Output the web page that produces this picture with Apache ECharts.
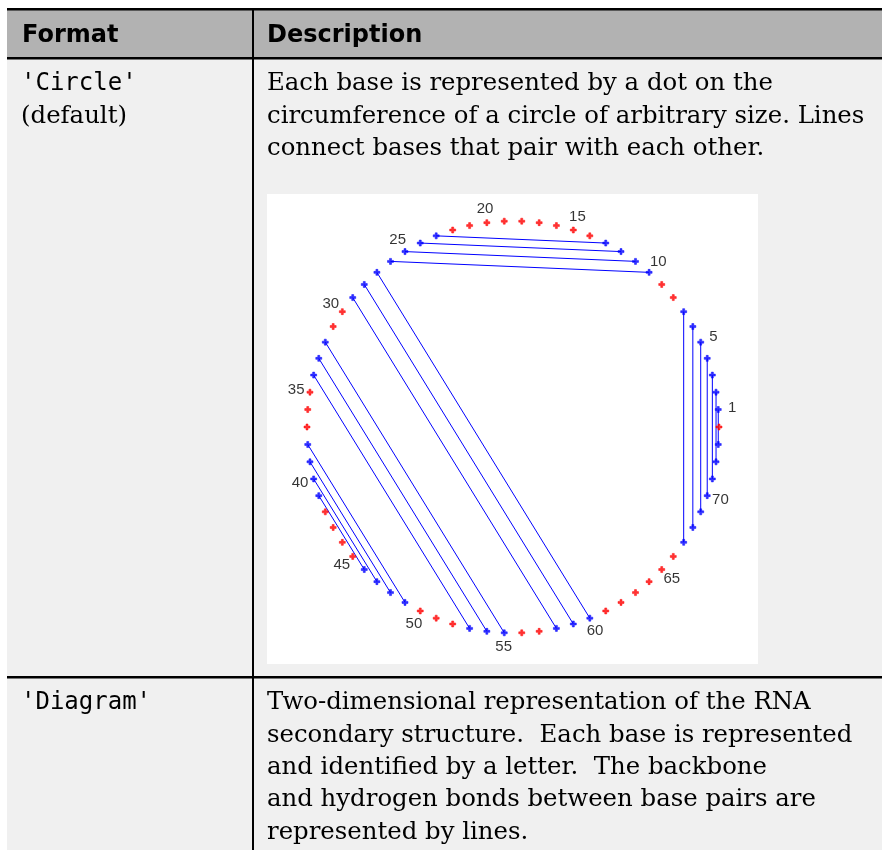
<!DOCTYPE html>
<html><head><meta charset="utf-8">
<script src="https://cdn.jsdelivr.net/npm/echarts@6/dist/echarts.min.js"></script>
<style>html,body{margin:0;padding:0;background:#fff;}#c{width:882px;height:850px;}</style>
</head><body><div id="c"></div>
<script>
// ---- data ----
const baseCount = 74;
// paired bases: pairStart[i] pairs with pairEnd[i]
const pairStart = [1, 2, 3, 4, 5, 6, 7, 10, 11, 12, 13, 27, 28, 29, 32, 33, 34, 38, 39, 40, 41];
const pairEnd   = [73, 72, 71, 70, 69, 68, 67, 26, 25, 24, 23, 60, 59, 58, 55, 54, 53, 49, 48, 47, 46];
const labeledBases = [1, 5, 10, 15, 20, 25, 30, 35, 40, 45, 50, 55, 60, 65, 70];
const headerLabels = ['Format', 'Description'];
const row1Format = ["'Circle'", '(default)'];
const row1Desc = ['Each base is represented by a dot on the',
                  'circumference of a circle of arbitrary size. Lines',
                  'connect bases that pair with each other.'];
const row2Format = ["'Diagram'"];
const row2Desc = ['Two-dimensional representation of the RNA',
                  'secondary structure.  Each base is represented',
                  'and identified by a letter.  The backbone',
                  'and hydrogen bonds between base pairs are',
                  'represented by lines.'];

// ---- build ----
const paired = new Set(pairStart.concat(pairEnd));
const BLUE = '#0000ff', RED = '#ff0000';
const R = 1, LABEL_R = 1.068;
const plusPath = 'path://M1,0H2V1H3V2H2V3H1V2H0V1H1Z';

const series = [];
pairStart.forEach((a, i) => {
  series.push({
    type: 'line', coordinateSystem: 'polar', silent: true, z: 2,
    symbol: 'none', animation: false,
    lineStyle: {color: BLUE, width: 1},
    data: [[R, a], [R, pairEnd[i]]]
  });
});
const baseData = [];
for (let k = 1; k <= baseCount; k++) {
  const c = paired.has(k) ? BLUE : RED;
  baseData.push({value: [R, k], itemStyle: {color: c, borderColor: c, borderWidth: 0.6}});
}
series.push({
  type: 'scatter', coordinateSystem: 'polar', z: 3, animation: false, silent: true,
  symbol: plusPath, symbolSize: 6, data: baseData
});
series.push({
  type: 'scatter', coordinateSystem: 'polar', z: 3, animation: false, silent: true,
  symbolSize: 0,
  data: labeledBases.map(k => [LABEL_R, k]),
  label: {show: true, position: 'inside', formatter: p => String(p.value[1]),
          color: '#000', fontSize: 15, fontFamily: 'Liberation Sans'}
});

const SERIF = '24.4px "DejaVu Serif"';
const MONO = '24px "DejaVu Sans Mono"';
const HEAD = 'bold 24px "DejaVu Sans"';
const graphics = [
  {type: 'rect', shape: {x: 7, y: 59, width: 875, height: 791}, style: {fill: '#f0f0f0'}, z: 0},
  {type: 'rect', shape: {x: 7, y: 10, width: 875, height: 47}, style: {fill: '#b2b2b2'}, z: 0},
  {type: 'rect', shape: {x: 7, y: 8, width: 875, height: 2.5}, style: {fill: '#000'}, z: 1},
  {type: 'rect', shape: {x: 7, y: 57, width: 875, height: 2.5}, style: {fill: '#000'}, z: 1},
  {type: 'rect', shape: {x: 7, y: 676, width: 875, height: 2.5}, style: {fill: '#000'}, z: 1},
  {type: 'rect', shape: {x: 252, y: 10, width: 2, height: 840}, style: {fill: '#000'}, z: 1},
  {type: 'rect', shape: {x: 267, y: 194, width: 491, height: 470}, style: {fill: '#fff'}, z: 1}
];
function addText(txt, x, baseline, font) {
  graphics.push({type: 'text', x: x, y: baseline - 8, z: 2,
    style: {text: txt, font: font, fill: '#000', textAlign: 'left', textVerticalAlign: 'middle'}});
}
addText(headerLabels[0], 22, 44, HEAD);
addText(headerLabels[1], 267, 44, HEAD);
row1Format.forEach((t, i) => addText(t, 21, 92 + i * 32.3, i === 0 ? MONO : SERIF));
row1Desc.forEach((t, i) => addText(t, 267, 92 + i * 32.3, SERIF));
row2Format.forEach((t, i) => addText(t, 21, 711 + i * 32.3, MONO));
row2Desc.forEach((t, i) => addText(t, 267, 711 + i * 32.3, SERIF));

const chart = echarts.init(document.getElementById('c'), null, {renderer: 'canvas'});
chart.setOption({
  animation: false,
  backgroundColor: '#fff',
  polar: {center: [513, 427], radius: 206 * 1.1},
  angleAxis: {type: 'value', min: 0, max: baseCount, startAngle: 0, clockwise: false, show: false},
  radiusAxis: {type: 'value', min: 0, max: 1.1, show: false},
  graphic: {elements: graphics},
  series: series
});
</script></body></html>
